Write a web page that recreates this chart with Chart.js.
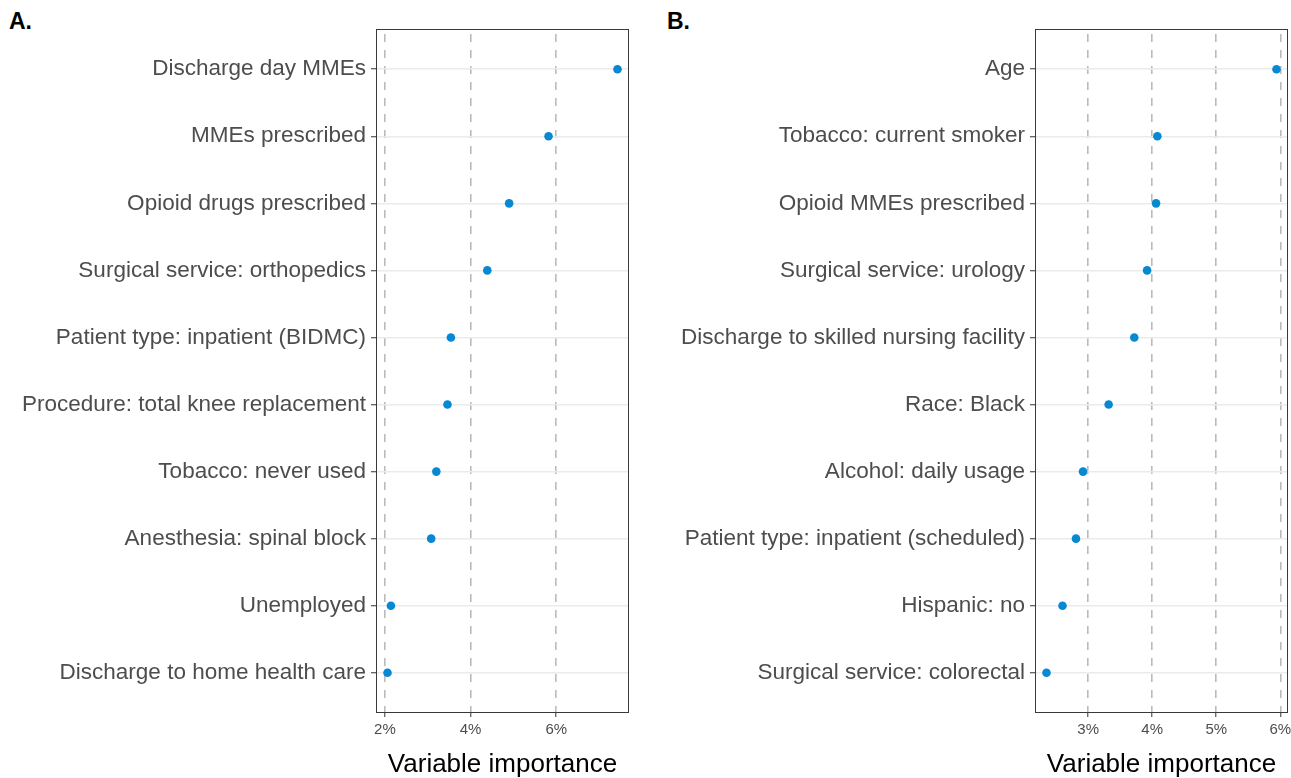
<!DOCTYPE html>
<html>
<head>
<meta charset="utf-8">
<script src="https://cdn.jsdelivr.net/npm/chart.js@4.4.1/dist/chart.umd.min.js"></script>
<style>
  html, body { margin: 0; padding: 0; background: #fff; }
  body { width: 1291px; height: 778px; position: relative; overflow: hidden; font-family: "Liberation Sans", Arial, sans-serif; }
  .panel { position: absolute; top: 0; }
  .tag { position: absolute; top: 10px; font-weight: bold; font-size: 23px; line-height: 1; color: #000; }
</style>
</head>
<body>
<div class="tag" style="left:9px">A.</div>
<div class="tag" style="left:667px">B.</div>
<div class="panel" style="left:0"><canvas id="chartA" width="645" height="778"></canvas></div>
<div class="panel" style="left:645px"><canvas id="chartB" width="660" height="778"></canvas></div>
<script>
// panel A
const labelsA = [
  "Discharge day MMEs",
  "MMEs prescribed",
  "Opioid drugs prescribed",
  "Surgical service: orthopedics",
  "Patient type: inpatient (BIDMC)",
  "Procedure: total knee replacement",
  "Tobacco: never used",
  "Anesthesia: spinal block",
  "Unemployed",
  "Discharge to home health care"
];
const valuesA = [7.43, 5.82, 4.90, 4.39, 3.54, 3.46, 3.20, 3.08, 2.14, 2.06];
const ticksA = [2, 4, 6];

// panel B
const labelsB = [
  "Age",
  "Tobacco: current smoker",
  "Opioid MMEs prescribed",
  "Surgical service: urology",
  "Discharge to skilled nursing facility",
  "Race: Black",
  "Alcohol: daily usage",
  "Patient type: inpatient (scheduled)",
  "Hispanic: no",
  "Surgical service: colorectal"
];
const valuesB = [5.94, 4.08, 4.06, 3.92, 3.72, 3.32, 2.92, 2.81, 2.60, 2.35];
const ticksB = [3, 4, 5, 6];

Chart.defaults.font.family = '"Liberation Sans", Arial, sans-serif';

// box around the plot area, like theme_bw
const panelBorder = {
  id: "panelBorder",
  afterDraw(chart) {
    const { ctx, chartArea: a } = chart;
    ctx.save();
    ctx.strokeStyle = "#3a3a3a";
    ctx.lineWidth = 1;
    ctx.strokeRect(a.left + 0.5, a.top + 0.5, a.right - a.left - 1, a.bottom - a.top - 1);
    ctx.restore();
  }
};

const makeChart = (id, labels, values, tickValues, yWidth, padRight) => {
  const lo = Math.min(...values);
  const hi = Math.max(...values);
  const pad = (hi - lo) * 0.05;
  return new Chart(document.getElementById(id), {
    type: "scatter",
    data: {
      datasets: [
        {
          data: values.map((v, i) => ({ x: v, y: i })),
          backgroundColor: "#0788D3",
          borderWidth: 0,
          pointRadius: 4.3,
        },
      ],
    },
    options: {
      responsive: false,
      animation: false,
      layout: { padding: { top: 29, right: padRight, bottom: 0, left: 0 } },
      plugins: { legend: { display: false }, tooltip: { enabled: false } },
      scales: {
        x: {
          type: "linear",
          bounds: "data",
          min: lo - pad,
          max: hi + pad,
          afterBuildTicks: (s) => { s.ticks = tickValues.map((v) => ({ value: v })); },
          afterFit: (s) => {
            s.height = 65;
            s.paddingLeft = 0;
            s.paddingRight = 0;
          },
          grid: {
            color: "#BBBBBB",
            lineWidth: 1.6,
            tickColor: "#333333",
            tickLength: 4,
            tickWidth: 1,
          },
          border: { display: false, dash: [8, 8], dashOffset: 11 },
          ticks: {
            padding: 4,
            color: "#4D4D4D",
            font: { size: 15 },
            callback: (v) => v + "%",
          },
          title: {
            display: true,
            text: "Variable importance",
            color: "#000",
            font: { size: 26 },
            padding: { top: 0, bottom: -2 },
          },
        },
        y: {
          type: "linear",
          bounds: "data",
          reverse: true,
          min: -0.6,
          max: labels.length - 0.4,
          afterBuildTicks: (s) => { s.ticks = labels.map((_, i) => ({ value: i })); },
          afterFit: (s) => { s.width = yWidth; },
          grid: { color: "#EBEBEB", lineWidth: 1.5, tickColor: "#333333", tickLength: 5, tickWidth: 1 },
          border: { display: false },
          ticks: {
            padding: 5,
            color: "#4D4D4D",
            font: { size: 22.5 },
            autoSkip: false,
            callback: (v) => labels[v],
          },
        },
      },
    },
    plugins: [panelBorder],
  });
};

const chartA = makeChart("chartA", labelsA, valuesA, ticksA, 376, 16);
const chartB = makeChart("chartB", labelsB, valuesB, ticksB, 390, 17);
</script>
</body>
</html>
